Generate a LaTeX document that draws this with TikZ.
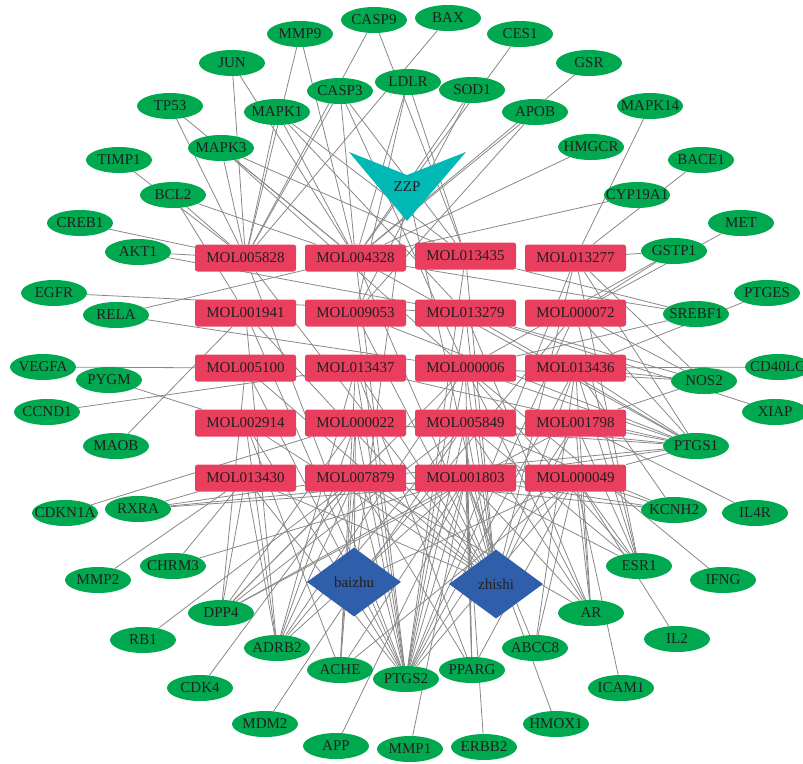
\documentclass[tikz,border=0pt]{standalone}
\usepackage{fontspec}
\setmainfont{Liberation Serif}
\usetikzlibrary{shapes.geometric,backgrounds}
\definecolor{gfill}{HTML}{00A94F}
\definecolor{rfill}{HTML}{EA3E5F}
\definecolor{tfill}{HTML}{00B8B4}
\definecolor{bfill}{HTML}{2F5EAB}
\definecolor{txt}{HTML}{231F20}
\definecolor{edgec}{HTML}{888888}
\tikzset{
  gene/.style={ellipse, fill=gfill, minimum width=66, minimum height=26, inner sep=0pt, text=txt, font=\fontsize{15}{17}\selectfont},
  mol/.style={rectangle, rounded corners=2.5pt, fill=rfill, minimum width=101, minimum height=27, inner sep=0pt, text=txt, font=\fontsize{15}{17}\selectfont},
  herb/.style={diamond, fill=bfill, minimum width=94, minimum height=69, inner sep=0pt, text=txt, font=\fontsize{15}{17}\selectfont},
  edge/.style={draw=edgec, line width=0.8pt}
}
\newcommand\gn[3]{\node[gene] (#1) at (#2,#3) {\makebox[0pt]{#1}};}
\newcommand\mn[3]{\node[mol] (#1) at (#2,#3) {#1};}
\begin{document}
\begin{tikzpicture}[x=1pt,y=-1pt]
\useasboundingbox (0,0) rectangle (803,763);
% MOL grid
\mn{MOL005828}{245.5}{258}
\mn{MOL004328}{355.5}{258}
\mn{MOL013435}{465.5}{256}
\mn{MOL013277}{575.5}{258}
\mn{MOL001941}{245.5}{313}
\mn{MOL009053}{355.5}{313}
\mn{MOL013279}{465.5}{313}
\mn{MOL000072}{575.5}{313}
\mn{MOL005100}{245.5}{368}
\mn{MOL013437}{355.5}{368}
\mn{MOL000006}{465.5}{368}
\mn{MOL013436}{575.5}{368}
\mn{MOL002914}{245.5}{423}
\mn{MOL000022}{355.5}{423}
\mn{MOL005849}{465.5}{423}
\mn{MOL001798}{575.5}{423}
\mn{MOL013430}{245.5}{478}
\mn{MOL007879}{355.5}{478}
\mn{MOL001803}{465.5}{478}
\mn{MOL000049}{575.5}{478}
% ZZP
\fill[tfill] (349,152) -- (407,175) -- (466,152) -- (407,221) -- cycle;
\node[text=txt, font=\fontsize{15}{17}\selectfont, inner sep=1pt] (ZZP) at (407,187) {ZZP};
% herbs
\node[herb] (baizhu) at (354,582) {\makebox[0pt]{baizhu}};
\node[herb] (zhishi) at (496,584) {\makebox[0pt]{zhishi}};
% genes
\gn{CASP9}{374}{20}
\gn{BAX}{448}{18}
\gn{CES1}{520}{34}
\gn{MMP9}{300}{34}
\gn{GSR}{589}{63}
\gn{JUN}{232}{63}
\gn{LDLR}{408}{82}
\gn{SOD1}{472}{90}
\gn{CASP3}{340}{91}
\gn{MAPK14}{650}{106}
\gn{TP53}{170}{106}
\gn{MAPK1}{277}{112}
\gn{APOB}{535}{112}
\gn{HMGCR}{591}{147}
\gn{MAPK3}{221}{148}
\gn{TIMP1}{119}{160}
\gn{BACE1}{701}{160}
\gn{BCL2}{173}{195}
\gn{CYP19A1}{637}{195}
\gn{CREB1}{80}{223}
\gn{MET}{741}{223}
\gn{GSTP1}{674}{251}
\gn{AKT1}{138}{252}
\gn{EGFR}{54}{293}
\gn{PTGES}{767}{293}
\gn{RELA}{116}{315}
\gn{SREBF1}{696}{314}
\gn{VEGFA}{43}{367}
\gn{CD40LG}{778}{367}
\gn{PYGM}{109}{380}
\gn{NOS2}{704}{381}
\gn{CCND1}{47}{412}
\gn{XIAP}{775}{412}
\gn{MAOB}{116}{446}
\gn{PTGS1}{696}{446}
\gn{RXRA}{138}{509}
\gn{KCNH2}{674}{510}
\gn{CDKN1A}{65}{513}
\gn{IL4R}{755}{513}
\gn{CHRM3}{173}{566}
\gn{ESR1}{639}{566}
\gn{MMP2}{98}{580}
\gn{IFNG}{723}{580}
\gn{DPP4}{221}{613}
\gn{AR}{591}{613}
\gn{RB1}{143}{640}
\gn{IL2}{677}{639}
\gn{ADRB2}{277}{648}
\gn{ABCC8}{535}{648}
\gn{ACHE}{340}{670}
\gn{PPARG}{472}{670}
\gn{PTGS2}{406}{679}
\gn{CDK4}{200}{688}
\gn{ICAM1}{621}{688}
\gn{MDM2}{265}{724}
\gn{HMOX1}{556}{724}
\gn{APP}{336}{746}
\gn{ERBB2}{484}{747}
\gn{MMP1}{410}{749}
\begin{pgfonlayer}{background}
\foreach \a/\b in {
ZZP/baizhu, ZZP/zhishi,
baizhu/MOL000022, baizhu/MOL000049, baizhu/MOL000072,
zhishi/MOL005828, zhishi/MOL004328, zhishi/MOL013435, zhishi/MOL013277,
zhishi/MOL001941, zhishi/MOL009053, zhishi/MOL013279,
zhishi/MOL005100, zhishi/MOL013437, zhishi/MOL000006, zhishi/MOL013436,
zhishi/MOL002914, zhishi/MOL005849, zhishi/MOL001798,
zhishi/MOL013430, zhishi/MOL007879, zhishi/MOL001803,
MMP9/MOL005828, MMP9/MOL004328,
CASP9/MOL005828, CASP9/MOL013435,
BAX/MOL005828, CES1/MOL004328,
JUN/MOL005828, JUN/MOL004328,
TP53/MOL005828, TP53/MOL004328,
MAPK1/MOL005828, MAPK1/MOL004328, MAPK1/MOL013435, MAPK1/MOL013279,
MAPK3/MOL005828, MAPK3/MOL004328, MAPK3/MOL013435, MAPK3/MOL000006,
CASP3/MOL005828, CASP3/MOL004328, CASP3/MOL013435, CASP3/MOL000006,
LDLR/MOL004328, LDLR/MOL013435, LDLR/MOL009053,
SOD1/MOL004328, SOD1/MOL009053,
APOB/MOL004328, APOB/MOL009053,
GSR/MOL004328, MAPK14/MOL013277, HMGCR/MOL004328,
BACE1/MOL013277, CYP19A1/MOL004328, MET/MOL000072,
GSTP1/MOL013277, GSTP1/MOL000006, GSTP1/MOL000072,
TIMP1/MOL005828,
BCL2/MOL005828, BCL2/MOL001941, BCL2/MOL004328,
CREB1/MOL005828,
AKT1/MOL005828, AKT1/MOL013279,
EGFR/MOL013279,
RELA/MOL004328, RELA/MOL000006,
VEGFA/MOL005100, PYGM/MOL002914, CCND1/MOL013437, MAOB/MOL001941,
CDKN1A/MOL000022,
RXRA/MOL013430, RXRA/MOL007879, RXRA/MOL001803, RXRA/MOL000049,
CHRM3/MOL013430, CHRM3/MOL001803,
MMP2/MOL013430, RB1/MOL007879, CDK4/MOL007879,
DPP4/MOL013430, DPP4/MOL005100, DPP4/MOL007879, DPP4/MOL000022,
DPP4/MOL001803, DPP4/MOL005849, DPP4/MOL000006, DPP4/MOL001798,
ADRB2/MOL013430, ADRB2/MOL007879, ADRB2/MOL000022, ADRB2/MOL001941,
ADRB2/MOL002914, ADRB2/MOL005849, ADRB2/MOL001803, ADRB2/MOL000006, ADRB2/MOL013437,
MDM2/MOL005849,
ACHE/MOL007879, ACHE/MOL013437, ACHE/MOL001803, ACHE/MOL000049, ACHE/MOL000022, ACHE/MOL002914,
APP/MOL001803, MMP1/MOL001803,
PPARG/MOL001803, PPARG/MOL007879, PPARG/MOL000006, PPARG/MOL005849, PPARG/MOL013437, PPARG/MOL000049,
ERBB2/MOL001803,
ABCC8/MOL001803, ABCC8/MOL000049, ABCC8/MOL013436,
HMOX1/MOL001803,
AR/MOL001803, AR/MOL000049, AR/MOL001798, AR/MOL000006, AR/MOL013436, AR/MOL005849, AR/MOL013279, AR/MOL007879,
ICAM1/MOL000049,
ESR1/MOL000049, ESR1/MOL001798, ESR1/MOL001803, ESR1/MOL013436, ESR1/MOL000006, ESR1/MOL005849, ESR1/MOL013277, ESR1/MOL000072,
IL2/MOL000049, IFNG/MOL000006,
KCNH2/MOL000049, KCNH2/MOL001803, KCNH2/MOL005849, KCNH2/MOL007879, KCNH2/MOL013436,
IL4R/MOL001798,
PTGS1/MOL000049, PTGS1/MOL001798, PTGS1/MOL013436, PTGS1/MOL000072, PTGS1/MOL013277,
PTGS1/MOL000006, PTGS1/MOL005849, PTGS1/MOL001803, PTGS1/MOL013279, PTGS1/MOL013437,
PTGS1/MOL000022, PTGS1/MOL009053, PTGS1/MOL004328, PTGS1/MOL007879,
XIAP/MOL013279,
NOS2/MOL013436, NOS2/MOL000006, NOS2/MOL013277, NOS2/MOL001798, NOS2/MOL013279, NOS2/MOL000072,
CD40LG/MOL013436,
SREBF1/MOL004328, SREBF1/MOL000006, SREBF1/MOL013435,
PTGES/MOL013436,
PTGS2/MOL005828, PTGS2/MOL004328, PTGS2/MOL013435, PTGS2/MOL013277,
PTGS2/MOL001941, PTGS2/MOL009053, PTGS2/MOL013279, PTGS2/MOL000072,
PTGS2/MOL005100, PTGS2/MOL013437, PTGS2/MOL000006, PTGS2/MOL013436,
PTGS2/MOL002914, PTGS2/MOL000022, PTGS2/MOL005849, PTGS2/MOL001798,
PTGS2/MOL013430, PTGS2/MOL007879, PTGS2/MOL001803, PTGS2/MOL000049}
  \draw[edge] (\a) -- (\b);
\end{pgfonlayer}
\end{tikzpicture}
\end{document}
